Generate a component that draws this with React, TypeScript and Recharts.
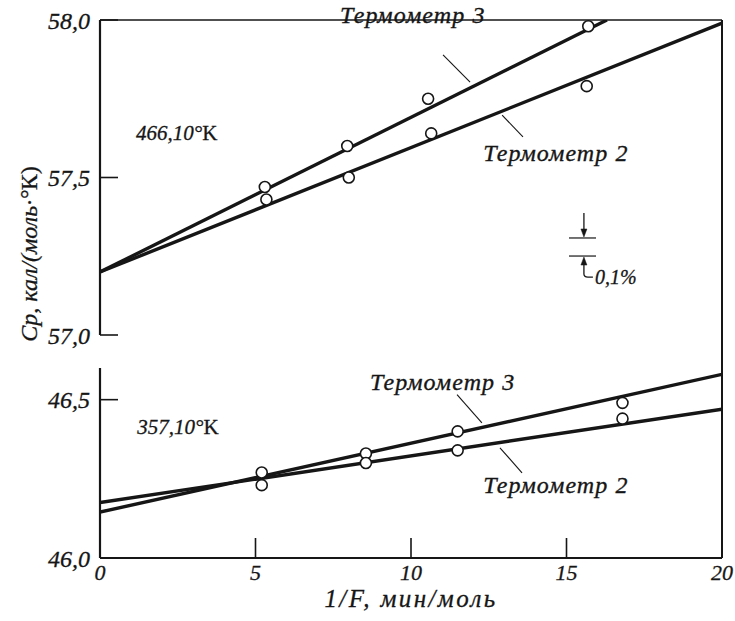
import React from 'react';
import {
  ComposedChart,
  Line,
  Scatter,
  XAxis,
  YAxis,
  ReferenceLine,
  ReferenceDot,
  Label,
} from 'recharts';

// 1/F, min/mol
const xTicks = [0, 5, 10, 15, 20];

// 466,10 °K run
const hiTicks = [57.0, 57.5, 58.0];
const hiTherm3 = [
  { x: 5.3, y: 57.47 },
  { x: 7.95, y: 57.6 },
  { x: 10.55, y: 57.75 },
  { x: 15.7, y: 57.98 },
];
const hiTherm2 = [
  { x: 5.35, y: 57.43 },
  { x: 8.0, y: 57.5 },
  { x: 10.65, y: 57.64 },
  { x: 15.65, y: 57.79 },
];
const hiFit3 = [
  { x: 0, y: 57.2 },
  { x: 16.3, y: 58.0 },
];
const hiFit2 = [
  { x: 0, y: 57.2 },
  { x: 20, y: 57.99 },
];

// 357,10 °K run
const loTicks = [46.0, 46.5];
const loTherm3 = [
  { x: 5.2, y: 46.27 },
  { x: 8.55, y: 46.33 },
  { x: 11.5, y: 46.4 },
  { x: 16.8, y: 46.49 },
];
const loTherm2 = [
  { x: 5.2, y: 46.23 },
  { x: 8.55, y: 46.3 },
  { x: 11.5, y: 46.34 },
  { x: 16.8, y: 46.44 },
];
const loFit3 = [
  { x: 0, y: 46.145 },
  { x: 20, y: 46.58 },
];
const loFit2 = [
  { x: 0, y: 46.175 },
  { x: 20, y: 46.47 },
];

// 0,1% scale mark next to the upper run
const stepLevel = 57.308;
const stepLow = stepLevel * (1 - 0.001);

const INK = '#161616';
const FONT = "'Liberation Serif', 'DejaVu Serif', serif";

const fmt = (v: number) => v.toFixed(1).replace('.', ',');

const OpenCircle = (p: any) => {
  if (p.cx == null || p.cy == null) return <g />;
  return <circle cx={p.cx} cy={p.cy} r={5.5} fill="#fff" stroke={INK} strokeWidth={1.6} />;
};

// tick label on the left, short tick pointing into the plot
const YTick = (p: any) => {
  const ax = p.x + 10;
  return (
    <g>
      <line x1={ax} x2={ax + 18} y1={p.y} y2={p.y} stroke={INK} strokeWidth={1.6} />
      <text x={p.x} y={p.y} dy="0.36em" textAnchor="end" fontFamily={FONT} fontStyle="italic" fontSize={24} fill={INK} stroke={INK} strokeWidth={0.3}>
        {fmt(p.payload.value)}
      </text>
    </g>
  );
};

const XTick = (p: any) => {
  const ay = p.y - 6;
  return (
    <g>
      <line x1={p.x} x2={p.x} y1={ay} y2={ay - 20} stroke={INK} strokeWidth={1.6} />
      <text x={p.x} y={p.y} dy="0.74em" textAnchor="middle" fontFamily={FONT} fontStyle="italic" fontSize={22} fill={INK} stroke={INK} strokeWidth={0.3}>
        {p.payload.value}
      </text>
    </g>
  );
};

const textAt = (label: string) => (p: any) => (
  <text x={p.cx} y={p.cy} dy="0.35em" fontFamily={FONT} fontStyle="italic" fontSize={24} letterSpacing={1.1} fill={INK} stroke={INK} strokeWidth={0.35}>
    {label}
  </text>
);

const tempAt = (label: string) => (p: any) => (
  <text x={p.cx} y={p.cy} dy="0.35em" fontFamily={FONT} fontSize={21} fill={INK} stroke={INK} strokeWidth={0.3}>
    <tspan fontStyle="italic">{label}</tspan>
    <tspan>K</tspan>
  </text>
);

const ArrowDown = (p: any) => (
  <g stroke={INK} fill={INK}>
    <line x1={p.cx} x2={p.cx} y1={p.cy - 25} y2={p.cy - 7} strokeWidth={1.3} />
    <polygon points={`${p.cx - 3},${p.cy - 9} ${p.cx + 3},${p.cy - 9} ${p.cx},${p.cy - 1}`} strokeWidth={0.5} />
  </g>
);

const ArrowUp = (p: any) => (
  <g>
    <g stroke={INK} fill={INK}>
      <polygon points={`${p.cx - 3},${p.cy + 9} ${p.cx + 3},${p.cy + 9} ${p.cx},${p.cy + 1}`} strokeWidth={0.5} />
      <path d={`M${p.cx},${p.cy + 7} V${p.cy + 18} Q${p.cx},${p.cy + 21} ${p.cx + 4},${p.cy + 21} H${p.cx + 9}`} fill="none" strokeWidth={1.3} />
    </g>
    <text x={p.cx + 11} y={p.cy + 21} dy="0.35em" fontFamily={FONT} fontStyle="italic" fontSize={20} fill={INK} stroke={INK} strokeWidth={0.3}>
      0,1%
    </text>
  </g>
);

const YTitle = (p: any) => {
  const x = p.viewBox.x - 3;
  const y = p.viewBox.y + 234;
  return (
    <text x={x} y={y} transform={`rotate(-90, ${x}, ${y})`} textAnchor="middle" fontFamily={FONT} fontSize={24} fill={INK} stroke={INK} strokeWidth={0.3}>
      <tspan fontStyle="italic">Ср, кал/(моль·°</tspan>
      <tspan>К)</tspan>
    </text>
  );
};

const XTitle = (p: any) => (
  <text x={p.viewBox.x + p.viewBox.width / 2} y={p.viewBox.y + 49} textAnchor="middle" fontFamily={FONT} fontStyle="italic" fontSize={25} letterSpacing={2.4} fill={INK} stroke={INK} strokeWidth={0.3}>
    1/F, мин/моль
  </text>
);

const leader = { stroke: INK, strokeWidth: 1.1, ifOverflow: 'visible' as const };
const fitLine = { type: 'linear' as const, dataKey: 'y', stroke: INK, strokeWidth: 3.4, dot: false, isAnimationActive: false };

const App: React.FC = () => {
  return (
    <div style={{ position: 'absolute', left: 0, top: 0, width: 735, height: 621, background: '#fff' }}>
      {/* upper panel: 466,10 °K */}
      <div style={{ position: 'absolute', left: 0, top: 0 }}>
        <ComposedChart width={735} height={621} margin={{ top: 20, right: 13, bottom: 286, left: 40 }}>
          <XAxis type="number" dataKey="x" domain={[0, 20]} ticks={xTicks} allowDataOverflow hide />
          <YAxis
            type="number"
            dataKey="y"
            domain={[57, 58]}
            ticks={hiTicks}
            allowDataOverflow
            width={60}
            tickSize={0}
            tickMargin={10}
            tickLine={false}
            tick={(p: any) => <YTick {...p} />}
            axisLine={{ stroke: INK, strokeWidth: 2.2 }}
          >
            <Label content={YTitle} />
          </YAxis>
          <ReferenceLine y={58} stroke={INK} strokeWidth={1.5} />
          <Line data={hiFit3} {...fitLine} />
          <Line data={hiFit2} {...fitLine} />
          <Scatter data={hiTherm3} dataKey="y" shape={OpenCircle} isAnimationActive={false} />
          <Scatter data={hiTherm2} dataKey="y" shape={OpenCircle} isAnimationActive={false} />

          <ReferenceDot x={7.72} y={58.016} r={0} ifOverflow="visible" shape={textAt('Термометр 3')} />
          <ReferenceLine segment={[{ x: 11.03, y: 57.889 }, { x: 11.9, y: 57.803 }]} {...leader} />
          <ReferenceDot x={12.32} y={57.578} r={0} ifOverflow="visible" shape={textAt('Термометр 2')} />
          <ReferenceLine segment={[{ x: 12.93, y: 57.698 }, { x: 13.6, y: 57.629 }]} {...leader} />
          <ReferenceDot x={1.16} y={57.641} r={0} ifOverflow="visible" shape={tempAt('466,10°')} />

          <ReferenceLine segment={[{ x: 15.08, y: stepLevel }, { x: 15.95, y: stepLevel }]} stroke={INK} strokeWidth={1.2} ifOverflow="visible" />
          <ReferenceLine segment={[{ x: 15.08, y: stepLow }, { x: 15.95, y: stepLow }]} stroke={INK} strokeWidth={1.2} ifOverflow="visible" />
          <ReferenceDot x={15.56} y={stepLevel} r={0} ifOverflow="visible" shape={ArrowDown} />
          <ReferenceDot x={15.56} y={stepLow} r={0} ifOverflow="visible" shape={ArrowUp} />
        </ComposedChart>
      </div>

      {/* lower panel: 357,10 °K */}
      <div style={{ position: 'absolute', left: 0, top: 0 }}>
        <ComposedChart width={735} height={621} margin={{ top: 368, right: 13, bottom: 8, left: 40 }}>
          <XAxis
            type="number"
            dataKey="x"
            domain={[0, 20]}
            ticks={xTicks}
            allowDataOverflow
            height={55}
            tickSize={0}
            tickMargin={6}
            tickLine={false}
            tick={(p: any) => <XTick {...p} />}
            axisLine={{ stroke: INK, strokeWidth: 2.2 }}
          >
            <Label content={XTitle} />
          </XAxis>
          <YAxis
            type="number"
            dataKey="y"
            domain={[46, 46.6]}
            ticks={loTicks}
            allowDataOverflow
            width={60}
            tickSize={0}
            tickMargin={10}
            tickLine={false}
            tick={(p: any) => <YTick {...p} />}
            axisLine={{ stroke: INK, strokeWidth: 2.2 }}
          />
          <Line data={loFit3} {...fitLine} />
          <Line data={loFit2} {...fitLine} />
          <Scatter data={loTherm3} dataKey="y" shape={OpenCircle} isAnimationActive={false} />
          <Scatter data={loTherm2} dataKey="y" shape={OpenCircle} isAnimationActive={false} />

          <ReferenceDot x={8.68} y={46.557} r={0} ifOverflow="visible" shape={textAt('Термометр 3')} />
          <ReferenceLine segment={[{ x: 11.48, y: 46.516 }, { x: 12.28, y: 46.427 }]} {...leader} />
          <ReferenceDot x={12.32} y={46.231} r={0} ifOverflow="visible" shape={textAt('Термометр 2')} />
          <ReferenceLine segment={[{ x: 12.86, y: 46.348 }, { x: 13.57, y: 46.269 }]} {...leader} />
          <ReferenceDot x={1.2} y={46.415} r={0} ifOverflow="visible" shape={tempAt('357,10°')} />
        </ComposedChart>
      </div>

      {/* right frame edge shared by both panels */}
      <div style={{ position: 'absolute', left: 721, top: 20, width: 2, height: 538, background: INK }} />
    </div>
  );
};

export default App;
